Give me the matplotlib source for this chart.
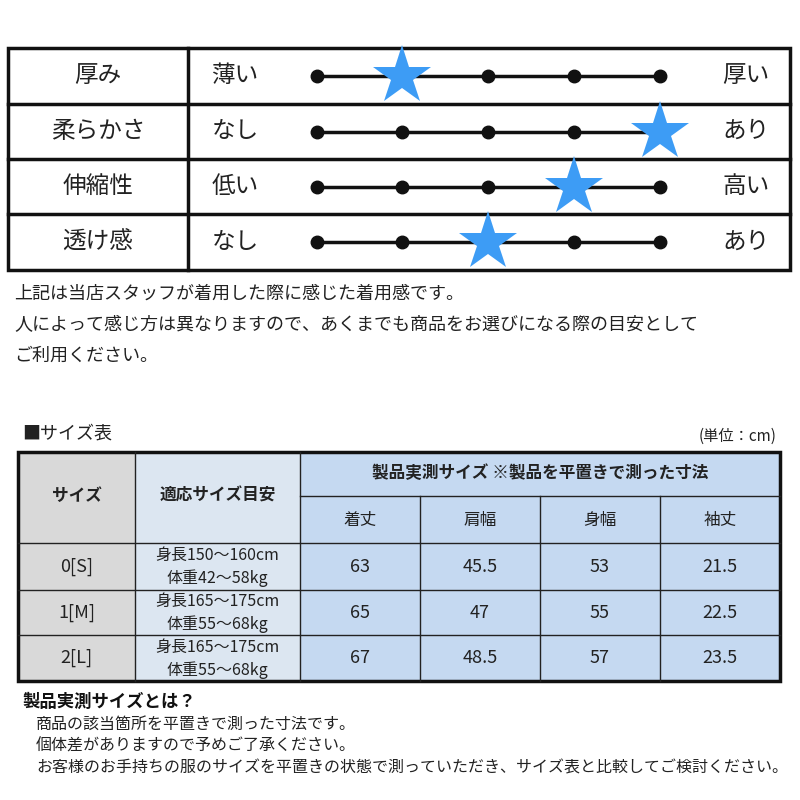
import matplotlib
matplotlib.use("Agg")
import matplotlib.pyplot as plt
from matplotlib.patches import Rectangle

plt.rcParams["font.family"] = "Noto Sans CJK JP"

attributes = ["厚み", "柔らかさ", "伸縮性", "透け感"]
left_labels = ["薄い", "なし", "低い", "なし"]
right_labels = ["厚い", "あり", "高い", "あり"]
levels = [2, 5, 4, 3]  # 1..5

notes = ["上記は当店スタッフが着用した際に感じた着用感です。",
         "人によって感じ方は異なりますので、あくまでも商品をお選びになる際の目安として",
         "ご利用ください。"]

sizes = ["0[S]", "1[M]", "2[L]"]
guides = [("身長150〜160cm", "体重42〜58kg"), ("身長165〜175cm", "体重55〜68kg"), ("身長165〜175cm", "体重55〜68kg")]
measure_names = ["着丈", "肩幅", "身幅", "袖丈"]
measures = [["63", "45.5", "53", "21.5"], ["65", "47", "55", "22.5"], ["67", "48.5", "57", "23.5"]]

footer_title = "製品実測サイズとは？"
footer_lines = ["商品の該当箇所を平置きで測った寸法です。",
                "個体差がありますので予めご了承ください。",
                "お客様のお手持ちの服のサイズを平置きの状態で測っていただき、サイズ表と比較してご検討ください。"]

fig = plt.figure(figsize=(8, 8), dpi=100)
ax = fig.add_axes([0, 0, 1, 1])
ax.set_xlim(0, 800); ax.set_ylim(800, 0); ax.axis("off")

# top table
rows_y = [48, 104, 159, 214, 270]
ax.add_patch(Rectangle((8, 48), 782, 222, fill=False, lw=2.5, ec="#111"))
ax.plot([188, 188], [48, 270], color="#111", lw=2.5)
for y in rows_y[1:-1]:
    ax.plot([8, 790], [y, y], color="#111", lw=2.5)
dots_x = [317, 402, 488, 574, 660]
for i, a in enumerate(attributes):
    yc = (rows_y[i] + rows_y[i + 1]) / 2
    ax.text(98, yc, a, ha="center", va="center", fontsize=17, color="#222")
    ax.text(235, yc, left_labels[i], ha="center", va="center", fontsize=17, color="#222")
    ax.text(746, yc, right_labels[i], ha="center", va="center", fontsize=17, color="#222")
    ax.plot([dots_x[0], dots_x[-1]], [yc, yc], color="#111", lw=2.5)
    for k, x in enumerate(dots_x):
        if k + 1 != levels[i]:
            ax.plot(x, yc, "o", color="#111", ms=9)
    ax.plot(dots_x[levels[i] - 1], yc, marker="*", color="#3d9cf5", ms=44, mew=0)

for j, t in enumerate(notes):
    ax.text(14, 294 + j * 31, t, ha="left", va="center", fontsize=13, color="#222")

# size table
ax.text(22, 434, "■サイズ表", ha="left", va="center", fontsize=13, color="#222")
ax.text(776, 436, "(単位：cm)", ha="right", va="center", fontsize=11, color="#222")
cx = [18, 135, 300, 420, 540, 660, 780]
ty = [452, 496, 543, 590, 635, 681]
ax.add_patch(Rectangle((18, 452), 117, 229, color="#d9d9d9", lw=0))
ax.add_patch(Rectangle((135, 452), 165, 229, color="#dce6f1", lw=0))
ax.add_patch(Rectangle((300, 452), 480, 229, color="#c5d9f1", lw=0))
lc = "#222"
for x in cx[1:3]:
    ax.plot([x, x], [452, 681], color=lc, lw=1)
for x in cx[3:6]:
    ax.plot([x, x], [496, 681], color=lc, lw=1)
ax.plot([300, 780], [496, 496], color=lc, lw=1)
for y in ty[2:5]:
    ax.plot([18, 780], [y, y], color=lc, lw=1)
ax.add_patch(Rectangle((18, 452), 762, 229, fill=False, lw=2.5, ec="#111"))
ax.text(76.5, 496, "サイズ", ha="center", va="center", fontsize=12, weight="bold", color="#222")
ax.text(217.5, 496, "適応サイズ目安", ha="center", va="center", fontsize=12, weight="bold", color="#222")
ax.text(540, 473, "製品実測サイズ ※製品を平置きで測った寸法", ha="center", va="center", fontsize=12, weight="bold", color="#222")
for k, m in enumerate(measure_names):
    ax.text((cx[k + 2] + cx[k + 3]) / 2, 520, m, ha="center", va="center", fontsize=12, color="#222")
for r in range(3):
    yc = (ty[r + 2] + ty[r + 3]) / 2
    ax.text(76.5, yc, sizes[r], ha="center", va="center", fontsize=13, color="#222")
    ax.text(217.5, yc - 11, guides[r][0], ha="center", va="center", fontsize=11.5, color="#222")
    ax.text(217.5, yc + 12, guides[r][1], ha="center", va="center", fontsize=11.5, color="#222")
    for k in range(4):
        ax.text((cx[k + 2] + cx[k + 3]) / 2, yc, measures[r][k], ha="center", va="center", fontsize=13, color="#222")

ax.text(22, 702, footer_title, ha="left", va="center", fontsize=12.5, weight="bold", color="#111")
for j, t in enumerate(footer_lines):
    ax.text(36, 724 + j * 22, t, ha="left", va="center", fontsize=11.5, color="#222")

fig.savefig("out.png", dpi=100, facecolor="white")
